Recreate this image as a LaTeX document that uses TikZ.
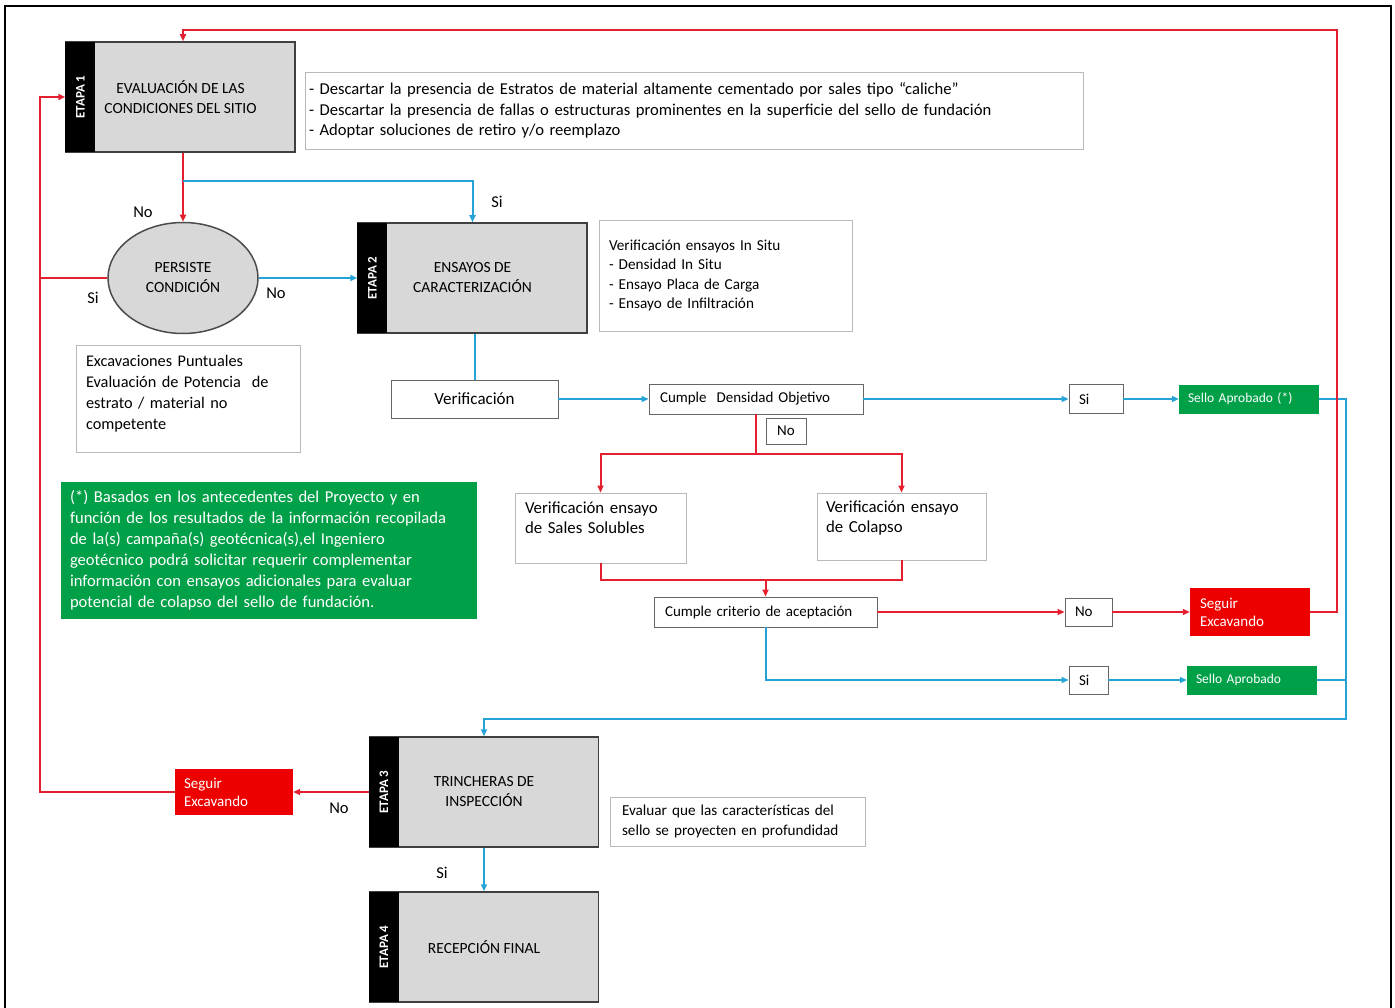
\documentclass[tikz,border=0pt]{standalone}
\usepackage{fontspec}
\setmainfont{Carlito}
\usetikzlibrary{arrows.meta,positioning,shapes.geometric}
\definecolor{rojo}{RGB}{228,32,48}
\definecolor{azul}{RGB}{38,163,214}
\definecolor{verde}{RGB}{0,160,72}
\definecolor{rojocaja}{RGB}{236,0,0}
\definecolor{gris}{RGB}{216,216,216}
\definecolor{borde}{RGB}{185,185,185}

\begin{document}
\begin{tikzpicture}[x=1pt, y=-1pt,
  etapa/.style={draw=black!75, line width=1.5pt, fill=gris, minimum width=229, minimum height=110, inner sep=0pt, align=center, font=\fontsize{15.5}{20}\selectfont},
  franja/.style={fill=black, minimum width=110, minimum height=30, inner sep=0pt, rotate=90, text=white, font=\bfseries\fontsize{13}{15}\selectfont},
  nota/.style={draw=borde, line width=0.9pt, fill=white, align=left, inner sep=0pt},
  caja/.style={draw=black!60, line width=0.9pt, fill=white, inner sep=0pt, font=\fontsize{15}{17}\selectfont},
  verdebox/.style={fill=verde, text=white, align=left, inner sep=0pt, font=\fontsize{13.5}{16}\selectfont},
  rojobox/.style={fill=rojocaja, text=white, align=left, inner sep=0pt, font=\fontsize{15}{18}\selectfont},
  etiq/.style={font=\fontsize{16.5}{18}\selectfont},
  flechar/.style={rojo, line width=2pt, -{Triangle[length=7pt,width=6pt]}},
  flechaa/.style={azul, line width=2pt, -{Triangle[length=7pt,width=6pt]}},
  linear/.style={draw=rojo, line width=2pt},
  lineaa/.style={draw=azul, line width=2pt}]

  \useasboundingbox (0,0) rectangle (1395,1008);
  \draw[line width=1.6pt] (5,1012) |- (1391,6) -- (1391,1012);

  % etapa 1
  \node[etapa] (e1) at (180.5,97) {EVALUACIÓN DE LAS\\CONDICIONES DEL SITIO};
  \node[franja, anchor=north] (e1f) at (e1.west) {ETAPA 1};
  \node[nota, minimum width=778, minimum height=77, text width=770, font=\fontsize{16.6}{20.5}\selectfont] (n1) at (694,110.5)
    {- Descartar la presencia de Estratos de material altamente cementado por sales tipo “caliche”\\
     - Descartar la presencia de fallas o estructuras prominentes en la superficie del sello de fundación\\
     - Adoptar soluciones de retiro y/o reemplazo};

  \node[ellipse, draw=black!70, line width=1.5pt, fill=gris, minimum width=150, minimum height=111, inner sep=0pt, align=center, font=\fontsize{15.5}{20}\selectfont] (pc) at (183,278) {PERSISTE\\CONDICIÓN};
  \node[nota, minimum width=224, minimum height=107, text width=204, font=\fontsize{16.3}{21}\selectfont] (n3) at (188,398.5)
    {Excavaciones Puntuales\\Evaluación de Potencia~ de\\estrato / material no\\competente\\[-8pt]~};

  % etapa 2
  \node[etapa] (e2) at (472.5,278) {ENSAYOS DE\\CARACTERIZACIÓN};
  \node[franja, anchor=north] (e2f) at (e2.west) {ETAPA 2};
  \node[nota, minimum width=253, minimum height=111, text width=233, font=\fontsize{15.2}{19.5}\selectfont] (n2) at (725.5,275.5)
    {Verificación ensayos In Situ\\- Densidad In Situ\\- Ensayo Placa de Carga\\- Ensayo de Infiltración};

  \node[caja, minimum width=167, minimum height=38, font=\fontsize{17}{19}\selectfont] (ver) at (474.5,399) {Verificación};
  \node[caja, minimum width=214, minimum height=30, text width=214, align=left] (cd) at (756,399) {\hspace*{11pt}Cumple~ Densidad Objetivo};
  \node[caja, minimum width=54, minimum height=29, text width=54, align=left] (si1) at (1096,399) {\hspace*{10pt}Si};
  \node[verdebox, minimum width=140, minimum height=29, text width=140] (sa1) at (1249,399) {\hspace*{9pt}Sello Aprobado (*)};
  \node[caja, minimum width=40, minimum height=26] (no1) at (786,431) {No};

  \node[nota, minimum width=171, minimum height=70, text width=171, font=\fontsize{16.8}{20}\selectfont] (vs) at (600.5,528)
    {\hspace*{10pt}Verificación ensayo\\\hspace*{10pt}de Sales Solubles\\~};
  \node[nota, minimum width=169, minimum height=67, text width=169, font=\fontsize{16.8}{20}\selectfont] (vc) at (901.5,526.5)
    {\hspace*{9pt}Verificación ensayo\\\hspace*{9pt}de Colapso\\~};

  \node[caja, minimum width=223, minimum height=30, text width=223, align=left] (cc) at (765.5,612) {\hspace*{11pt}Cumple criterio de aceptación};
  \node[caja, minimum width=47, minimum height=28, text width=47, align=left] (no2) at (1088.5,612) {\hspace*{10pt}No};
  \node[rojobox, minimum width=120, minimum height=48, text width=120] (se1) at (1250,612) {\hspace*{10pt}Seguir\\\hspace*{10pt}Excavando};
  \node[caja, minimum width=39, minimum height=28, text width=39, align=left] (si2) at (1088.5,680) {\hspace*{10pt}Si};
  \node[verdebox, minimum width=130, minimum height=29, text width=130] (sa2) at (1252,680) {\hspace*{9pt}Sello Aprobado};

  \node[fill=verde, text=white, align=left, inner sep=0pt, minimum width=416, minimum height=137, text width=398, font=\fontsize{16.6}{21}\selectfont] (nv) at (269,550.5)
    {(*) Basados en los antecedentes del Proyecto y en\\función de los resultados de la información recopilada\\de la(s) campaña(s) geotécnica(s),el Ingeniero\\geotécnico podrá solicitar requerir complementar\\información con ensayos adicionales para evaluar\\potencial de colapso del sello de fundación.};

  % etapa 3 y 4
  \node[etapa] (e3) at (484,792) {TRINCHERAS DE\\INSPECCIÓN};
  \node[franja, anchor=north] (e3f) at (e3.west) {ETAPA 3};
  \node[rojobox, minimum width=118, minimum height=46, text width=118] (se2) at (234,792) {\hspace*{9pt}Seguir\\\hspace*{9pt}Excavando};
  \node[nota, minimum width=255, minimum height=49, text width=231, font=\fontsize{15.2}{20}\selectfont] (n4) at (737.5,821.5)
    {Evaluar que las características del\\sello se proyecten en profundidad};
  \node[etapa] (e4) at (484,947) {RECEPCIÓN FINAL};
  \node[franja, anchor=north] (e4f) at (e4.west) {ETAPA 4};

  % conectores
  \coordinate (bif) at (183,181);
  \coordinate (retorno) at (40,278);
  \draw[flechar] (e1.south -| pc) -- (pc.north);
  \node[etiq] (lno1) at (143,212) {No};
  \draw[flechaa] (bif) -| (e2.north);
  \node[etiq] (lsi1) at (497,202) {Si};
  \draw[linear] (pc.west) -- (retorno);
  \node[etiq] (lsi2) at (93,298) {Si};
  \draw[flechaa] (pc.east) -- (e2.west);
  \node[etiq] (lno2) at (276,293) {No};
  \draw[lineaa] (e2.south -| ver) -- (ver.north);
  \draw[flechaa] (ver.east) -- (cd.west);
  \draw[flechaa] (cd.east) -- (si1.west);
  \draw[flechaa] (si1.east) -- (sa1.west);
  \draw[flechaa] (sa1.east) -| ++(27,320) -| (e3.north);
  \draw[lineaa] (sa2.east) -- ++(29,0);
  \draw[linear] (cd.south) -- ++(0,40) coordinate (rama);
  \draw[flechar] (rama) -| (vs.north);
  \draw[flechar] (rama) -| (vc.north);
  \draw[linear] (vs.south) -- ++(0,17) coordinate (union) -| (vc.south);
  \draw[flechar] (cc.north |- union) -- (cc.north);
  \draw[flechar] (cc.east) -- (no2.west);
  \draw[flechar] (no2.east) -- (se1.west);
  \draw[flechar] (se1.east) -| ++(27,-582) -| (e1.north -| pc);
  \draw[flechaa] (cc.south) |- (si2.west);
  \draw[flechaa] (si2.east) -- (sa2.west);
  \draw[flechar] (e3.west) -- (se2.east);
  \node[etiq] (lno3) at (339,808) {No};
  \draw[flechar] (se2.west) -- ++(-135,0) |- (e1.west);
  \draw[flechaa] (e3.south) -- (e4.north);
  \node[etiq] (lsi3) at (442,873) {Si};
\end{tikzpicture}
\end{document}
